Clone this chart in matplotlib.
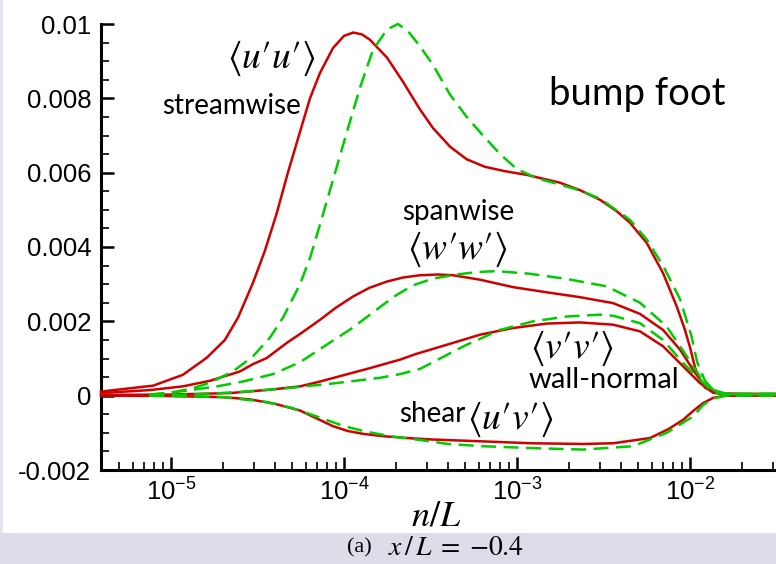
import matplotlib
matplotlib.use("Agg")
import matplotlib.pyplot as plt
from matplotlib.patches import Rectangle
from matplotlib.ticker import FixedLocator, LogLocator, NullFormatter, MultipleLocator

plt.rcParams['font.family'] = ['Liberation Sans', 'DejaVu Sans']
plt.rcParams['mathtext.fontset'] = 'stix'

# ---- data (n/L, value) ----
# streamwise <u'u'>
red_uu_n = [3.94e-6, 7.9e-6, 1.17e-5, 1.61e-5, 2.05e-5, 2.44e-5, 2.98e-5, 3.49e-5, 4.08e-5, 4.74e-5,
            5.57e-5, 6.36e-5, 7.26e-5, 8.63e-5, 1.0e-4, 1.13e-4, 1.27e-4, 1.41e-4, 1.77e-4, 2.19e-4,
            2.75e-4, 3.27e-4, 4.1e-4, 5.12e-4, 6.5e-4, 8.5e-4, 1.14e-3, 1.77e-3, 2.31e-3, 3.02e-3,
            3.8e-3, 4.5e-3, 5.62e-3, 6.98e-3, 8.38e-3, 9.3e-3, 1.0e-2, 1.07e-2, 1.14e-2, 1.22e-2,
            1.36e-2, 1.6e-2, 2.0e-2, 3.2e-2]
red_uu = [0.00011, 0.00027, 0.00056, 0.00102, 0.0015, 0.0021, 0.00304, 0.0039, 0.0049, 0.006,
          0.0071, 0.008, 0.00868, 0.00935, 0.00968, 0.00977, 0.00972, 0.00958, 0.0091, 0.00845,
          0.0077, 0.0072, 0.0067, 0.00636, 0.00616, 0.00604, 0.00594, 0.00573, 0.00553, 0.00527,
          0.00495, 0.00465, 0.00411, 0.0033, 0.0024, 0.0018, 0.0013, 0.00075, 0.00043, 0.00022,
          0.0001, 0.00006, 0.00005, 0.00005]
grn_uu_n = [7.5e-6, 1.0e-5, 1.34e-5, 1.68e-5, 2.28e-5, 2.98e-5, 3.73e-5, 4.44e-5, 5.57e-5, 6.36e-5,
            7.26e-5, 8.63e-5, 1.04e-4, 1.24e-4, 1.47e-4, 1.77e-4, 2.05e-4, 2.35e-4, 2.75e-4, 3.27e-4,
            4.1e-4, 5.12e-4, 6.36e-4, 7.98e-4, 9.96e-4, 1.3e-3, 1.77e-3, 2.31e-3, 3.02e-3, 4.5e-3,
            5.62e-3, 6.98e-3, 8.75e-3, 1.02e-2, 1.1e-2, 1.22e-2, 1.36e-2, 1.6e-2, 2.0e-2, 3.2e-2]
grn_uu = [0.00002, 0.00008, 0.0002, 0.00035, 0.00065, 0.00106, 0.00156, 0.0021, 0.003, 0.0037,
          0.0046, 0.0058, 0.0071, 0.0083, 0.0093, 0.00985, 0.01, 0.0098, 0.0094, 0.0089,
          0.0081, 0.0075, 0.007, 0.0065, 0.0061, 0.00585, 0.00568, 0.00552, 0.0053, 0.00473,
          0.0042, 0.0035, 0.0026, 0.0016, 0.0009, 0.0004, 0.00015, 0.00006, 0.00005, 0.00005]

# spanwise <w'w'>
red_ww_n = [3.94e-6, 7.56e-6, 1.17e-5, 1.68e-5, 2.5e-5, 2.98e-5, 3.57e-5, 4.67e-5, 5.57e-5, 7.26e-5,
            9.0e-5, 1.13e-4, 1.4e-4, 1.77e-4, 2.2e-4, 2.75e-4, 3.5e-4, 4.27e-4, 6.11e-4, 9.49e-4,
            1.49e-3, 2.31e-3, 3.59e-3, 5.14e-3, 6.98e-3, 8.75e-3, 1.04e-2, 1.22e-2, 1.36e-2, 1.6e-2,
            3.2e-2]
red_ww = [0.00007, 0.00015, 0.00025, 0.0004, 0.00065, 0.00085, 0.00101, 0.00142, 0.00166, 0.00204,
          0.00237, 0.00267, 0.0029, 0.00307, 0.00318, 0.00324, 0.00326, 0.00324, 0.00312, 0.00292,
          0.00278, 0.00265, 0.00249, 0.0022, 0.00177, 0.00124, 0.0007, 0.00025, 0.00008, 0.00003,
          0.00003]
grn_ww_n = [7.5e-6, 1.17e-5, 1.85e-5, 2.6e-5, 3.89e-5, 5.57e-5, 8.0e-5, 1.1e-4, 1.3e-4, 1.61e-4,
            2.0e-4, 2.51e-4, 3.27e-4, 4.48e-4, 6.0e-4, 7.64e-4, 1.19e-3, 1.94e-3, 3.3e-3, 4.2e-3,
            5.14e-3, 7.33e-3, 9.57e-3, 1.14e-2, 1.36e-2, 1.6e-2, 3.2e-2]
grn_ww = [0.00003, 0.00012, 0.00025, 0.00038, 0.00058, 0.0009, 0.00138, 0.0018, 0.00205, 0.00238,
          0.0027, 0.00297, 0.00315, 0.00326, 0.00333, 0.00335, 0.00328, 0.00314, 0.00294, 0.0027,
          0.0025, 0.00186, 0.00106, 0.00052, 0.00016, 0.00004, 0.00003]

# wall-normal <v'v'>
red_vv_n = [3.94e-6, 1.0e-5, 2.2e-5, 3.73e-5, 5.57e-5, 7.26e-5, 1.41e-4, 2.11e-4, 2.6e-4, 3.93e-4,
            6.11e-4, 9.49e-4, 1.49e-3, 2.31e-3, 3.59e-3, 5.14e-3, 6.98e-3, 9.12e-3, 1.14e-2, 1.36e-2,
            1.6e-2, 3.2e-2]
red_vv = [0.00002, 0.00003, 0.00007, 0.00016, 0.00025, 0.00038, 0.00074, 0.00097, 0.00112, 0.00137,
          0.00164, 0.00182, 0.00194, 0.00197, 0.00191, 0.00173, 0.00133, 0.00079, 0.00034, 0.0001,
          0.00003, 0.00003]
grn_vv_n = [7.5e-6, 1.5e-5, 2.5e-5, 4.67e-5, 9.08e-5, 1.61e-4, 2.11e-4, 2.75e-4, 3.27e-4, 4.1e-4,
            5.12e-4, 7.98e-4, 1.24e-3, 1.94e-3, 3.02e-3, 3.59e-3, 5.14e-3, 6.98e-3, 9.12e-3, 1.14e-2,
            1.36e-2, 1.6e-2, 3.2e-2]
grn_vv = [0.0, 0.00004, 0.0001, 0.0002, 0.00034, 0.00048, 0.00058, 0.00072, 0.0009, 0.00114,
          0.00137, 0.00177, 0.002, 0.00213, 0.00218, 0.00215, 0.00195, 0.0015, 0.00088, 0.00043,
          0.0001, 0.00003, 0.00003]

# shear <u'v'>
red_uv_n = [3.94e-6, 1.0e-5, 2.0e-5, 2.86e-5, 4.0e-5, 5.57e-5, 7.0e-5, 8.63e-5, 1.05e-4, 1.3e-4,
            1.68e-4, 2.5e-4, 3.27e-4, 6.36e-4, 1.2e-3, 2.41e-3, 3.6e-3, 5.87e-3, 7.5e-3, 9.12e-3,
            1.05e-2, 1.19e-2, 1.36e-2, 1.6e-2, 3.2e-2]
red_uv = [0.0, -0.00001, -0.00004, -0.0001, -0.00022, -0.0004, -0.00062, -0.00082, -0.00095, -0.00103,
          -0.00109, -0.00115, -0.00118, -0.00123, -0.00128, -0.0013, -0.00128, -0.00114, -0.0009, -0.00065,
          -0.0004, -0.0002, -0.00006, 0.0, 0.0]
grn_uv_n = [7.5e-6, 2.0e-5, 3.57e-5, 5.0e-5, 6.95e-5, 1.0e-4, 1.35e-4, 1.9e-4, 2.63e-4, 4.0e-4,
            6.36e-4, 1.2e-3, 2.41e-3, 4.69e-3, 7.33e-3, 1.04e-2, 1.19e-2, 1.36e-2, 1.6e-2, 3.2e-2]
grn_uv = [0.0, -0.00004, -0.00017, -0.00033, -0.00056, -0.00082, -0.00097, -0.0011, -0.00118, -0.0013,
          -0.00136, -0.00141, -0.00145, -0.00136, -0.001, -0.00056, -0.00025, -0.00008, 0.0, 0.0]

y_ticks = [-0.002, 0, 0.002, 0.004, 0.006, 0.008, 0.01]
y_labels = ['-0.002', '0', '0.002', '0.004', '0.006', '0.008', '0.01']
x_ticks = [1e-5, 1e-4, 1e-3, 1e-2]
x_labels = [r'$\mathregular{10^{-5}}$', r'$\mathregular{10^{-4}}$',
            r'$\mathregular{10^{-3}}$', r'$\mathregular{10^{-2}}$']

RED = '#d00000'
GRN = '#00cc00'

W, H = 776, 564
fig = plt.figure(figsize=(W / 100, H / 100), dpi=100)
fig.patches.append(Rectangle((0, 0), 1, 31 / H, transform=fig.transFigure,
                             facecolor='#dcdde8', edgecolor='none', zorder=0))
fig.patches.append(Rectangle((0, 31 / H), 3 / W, 1, transform=fig.transFigure,
                             facecolor='#e2e4ef', edgecolor='none', zorder=0))

ax = fig.add_axes([101 / W, (H - 470) / H, 675 / W, 446 / H])
ax.set_xscale('log')
ax.set_xlim(3.94e-6, 0.0314)
ax.set_ylim(-0.002, 0.01)

for xs, ys in [(red_uu_n, red_uu), (red_ww_n, red_ww), (red_vv_n, red_vv), (red_uv_n, red_uv)]:
    ax.plot(xs, ys, color=RED, lw=1.8, clip_on=False, zorder=3)
for xs, ys in [(grn_uu_n, grn_uu), (grn_ww_n, grn_ww), (grn_vv_n, grn_vv), (grn_uv_n, grn_uv)]:
    ax.plot(xs, ys, color=GRN, lw=1.8, dashes=(6, 3), clip_on=False, zorder=4)

# axes look
for s in ['top', 'right']:
    ax.spines[s].set_visible(False)
for s in ['left', 'bottom']:
    ax.spines[s].set_linewidth(2.2)

ax.yaxis.set_major_locator(FixedLocator(y_ticks))
ax.set_yticklabels(y_labels)
ax.yaxis.set_minor_locator(MultipleLocator(0.0005))
ax.xaxis.set_major_locator(FixedLocator(x_ticks))
ax.set_xticklabels(x_labels)
ax.xaxis.set_minor_locator(LogLocator(base=10, subs=range(2, 10), numticks=20))
ax.xaxis.set_minor_formatter(NullFormatter())

ax.tick_params(which='major', direction='in', length=9.5, width=1.8, labelsize=18.5, pad=7)
ax.tick_params(which='minor', direction='in', length=5.5, width=1.2)
ax.tick_params(axis='x', which='major', pad=6)

# axis label and caption
fig.text(436 / W, 1 - 516 / H, r'$n/L$', fontsize=26, ha='center', va='center')
fig.text(347 / W, 1 - 548 / H, '(a)', fontsize=16, family='Liberation Serif',
         ha='left', va='center')
fig.text(388 / W, 1 - 548 / H, r'$x\,/\,L\;=\;{-}0.4$', fontsize=20, ha='left', va='center')

# curve annotations
lab = dict(family=['Lato', 'DejaVu Sans'], ha='center', va='center')
mth = dict(fontsize=27, ha='center', va='center')
fig.text(271 / W, 1 - 58 / H, r"$\langle u\prime u\prime\rangle$", **mth)
fig.text(232 / W, 1 - 106 / H, 'streamwise', fontsize=20, **lab)
fig.text(637 / W, 1 - 94 / H, 'bump foot', fontsize=27.5, **lab)
fig.text(458 / W, 1 - 212 / H, 'spanwise', fontsize=20, **lab)
fig.text(457 / W, 1 - 249 / H, r"$\langle w\prime w\prime\rangle$", **mth)
fig.text(572 / W, 1 - 348 / H, r"$\langle v\prime v\prime\rangle$", **mth)
fig.text(604 / W, 1 - 380 / H, 'wall-normal', fontsize=21, **lab)
fig.text(432 / W, 1 - 414 / H, 'shear', fontsize=20, **lab)
fig.text(510 / W, 1 - 419 / H, r"$\langle u\prime v\prime\rangle$", **mth)

fig.savefig('out.png', dpi=100)
